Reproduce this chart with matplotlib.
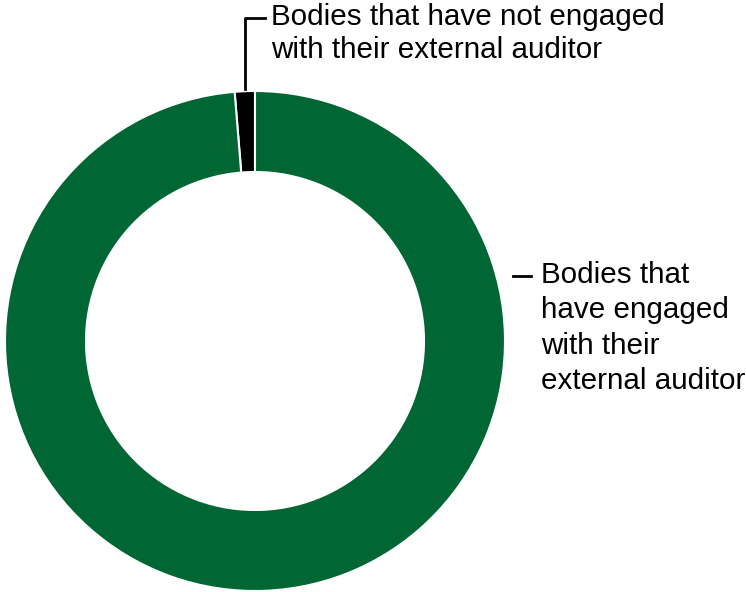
import numpy as np
import matplotlib
matplotlib.use("Agg")
import matplotlib.pyplot as plt
from matplotlib.lines import Line2D

# Data
labels = ["Bodies that have not engaged\nwith their external auditor",
          "Bodies that\nhave engaged\nwith their\nexternal auditor"]
values = [1.3, 98.7]
colors = ["#000000", "#006634"]

plt.rcParams['font.family'] = ['Liberation Sans', 'DejaVu Sans']

W, H = 746, 592
fig = plt.figure(figsize=(W / 100, H / 100), dpi=100)
ax = fig.add_axes([5 / W, 1 / H, 500 / W, 500 / H])
wedges, _ = ax.pie(values, colors=colors, startangle=90, counterclock=True,
                   radius=1.0,
                   wedgeprops=dict(width=0.324, edgecolor="white", linewidth=1.5))
ax.set_xlim(-1, 1)
ax.set_ylim(-1, 1)
ax.set_aspect("equal")
ax.axis("off")

# leader for the small slice: from its outer mid point straight up
w0 = wedges[0]
mid = np.deg2rad((w0.theta1 + w0.theta2) / 2)
px, py = np.cos(mid) * 1.01, np.sin(mid) * 1.01
disp = ax.transData.transform((px, py))
fx, fy = fig.transFigure.inverted().transform(disp)
top_y = 1 - 18 / H
fig.add_artist(Line2D([fx, fx, 265 / W], [fy, top_y, top_y],
                      transform=fig.transFigure, color="black", lw=2))
fig.text(271 / W, 1 - 3 / H, labels[0], ha="left", va="top",
         fontsize=21.3, linespacing=1.23)

# right label
fig.add_artist(Line2D([513 / W, 531 / W], [1 - 276 / H, 1 - 276 / H],
                      transform=fig.transFigure, color="black", lw=2))
fig.text(541 / W, 1 - 261 / H, labels[1], ha="left", va="top",
         fontsize=21.3, linespacing=1.33)

fig.savefig("out.png", dpi=100)
